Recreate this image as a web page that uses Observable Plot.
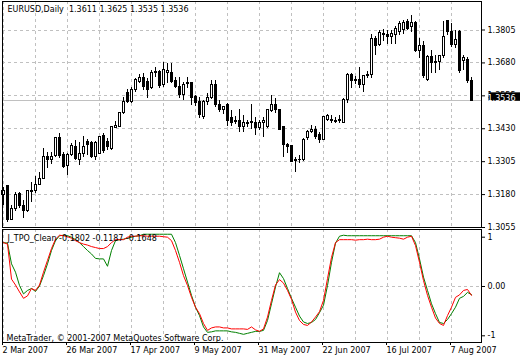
<!DOCTYPE html>
<html><head><meta charset="utf-8">
<script src="https://cdn.jsdelivr.net/npm/d3@7"></script>
<script src="https://cdn.jsdelivr.net/npm/@observablehq/plot@0.6"></script>
<style>
html,body{margin:0;padding:0;background:#fff;}
body{width:520px;height:360px;overflow:hidden;position:relative;font-family:"DejaVu Sans";}
#main,#ind{position:absolute;left:0;}
#main{top:0;}
#ind{top:228px;}
</style></head><body>
<div id="main"></div><div id="ind"></div>
<script>
const symbolTitle = "EURUSD,Daily  1.3611 1.3625 1.3535 1.3536";
const indTitle = "J_TPO_Clean -0.1802 -0.1187 -0.1648";
const copyright = "MetaTrader, © 2001-2007 MetaQuotes Software Corp.";

const opens = [1.3180,1.3211,1.3085,1.3127,1.3184,1.3135,1.3116,1.3192,1.3192,1.3218,
1.3241,1.3321,1.3310,1.3325,1.3393,1.3329,1.3287,1.3332,1.3359,1.3310,
1.3336,1.3378,1.3374,1.3321,1.3336,1.3401,1.3378,1.3355,1.3431,1.3435,
1.3488,1.3564,1.3530,1.3576,1.3606,1.3621,1.3606,1.3583,1.3644,1.3644,
1.3595,1.3640,1.3640,1.3610,1.3587,1.3557,1.3602,1.3602,1.3549,1.3530,
1.3473,1.3530,1.3545,1.3595,1.3522,1.3500,1.3522,1.3469,1.3458,1.3458,
1.3435,1.3450,1.3450,1.3450,1.3431,1.3450,1.3435,1.3496,1.3522,1.3500,
1.3435,1.3367,1.3363,1.3306,1.3313,1.3310,1.3393,1.3416,1.3427,1.3405,
1.3389,1.3462,1.3462,1.3458,1.3458,1.3450,1.3541,1.3636,1.3617,1.3617,
1.3595,1.3636,1.3633,1.3769,1.3747,1.3788,1.3785,1.3777,1.3785,1.3796,
1.3804,1.3834,1.3815,1.3830,1.3724,1.3743,1.3614,1.3701,1.3682,1.3682,
1.3705,1.3838,1.3796,1.3747,1.3796,1.3686,1.3690,1.3611];
const highs = [1.3207,1.3215,1.3139,1.3188,1.3188,1.3158,1.3196,1.3226,1.3249,1.3264,
1.3355,1.3340,1.3340,1.3397,1.3412,1.3340,1.3336,1.3374,1.3386,1.3378,
1.3401,1.3389,1.3382,1.3382,1.3401,1.3412,1.3393,1.3435,1.3458,1.3492,
1.3549,1.3579,1.3587,1.3621,1.3636,1.3640,1.3621,1.3652,1.3663,1.3652,
1.3682,1.3678,1.3678,1.3625,1.3625,1.3606,1.3625,1.3606,1.3557,1.3549,
1.3538,1.3564,1.3614,1.3614,1.3538,1.3515,1.3526,1.3500,1.3477,1.3503,
1.3481,1.3462,1.3522,1.3473,1.3462,1.3473,1.3503,1.3557,1.3545,1.3503,
1.3435,1.3374,1.3367,1.3321,1.3329,1.3393,1.3424,1.3443,1.3439,1.3416,
1.3477,1.3484,1.3481,1.3473,1.3481,1.3545,1.3640,1.3640,1.3629,1.3663,
1.3629,1.3648,1.3788,1.3781,1.3804,1.3807,1.3804,1.3804,1.3819,1.3838,
1.3842,1.3846,1.3861,1.3838,1.3773,1.3762,1.3709,1.3728,1.3709,1.3709,
1.3838,1.3842,1.3830,1.3804,1.3804,1.3709,1.3701,1.3625];
const lows = [1.3139,1.3074,1.3082,1.3116,1.3127,1.3089,1.3112,1.3150,1.3184,1.3215,
1.3237,1.3279,1.3294,1.3321,1.3317,1.3279,1.3253,1.3325,1.3310,1.3291,
1.3321,1.3329,1.3317,1.3310,1.3332,1.3336,1.3348,1.3348,1.3431,1.3435,
1.3484,1.3526,1.3526,1.3568,1.3602,1.3576,1.3545,1.3579,1.3625,1.3583,
1.3587,1.3602,1.3602,1.3583,1.3545,1.3538,1.3583,1.3519,1.3515,1.3469,
1.3465,1.3519,1.3541,1.3511,1.3492,1.3484,1.3439,1.3439,1.3446,1.3416,
1.3416,1.3435,1.3427,1.3405,1.3424,1.3397,1.3431,1.3492,1.3488,1.3424,
1.3321,1.3336,1.3302,1.3264,1.3298,1.3306,1.3386,1.3412,1.3389,1.3374,
1.3386,1.3458,1.3450,1.3450,1.3450,1.3450,1.3526,1.3583,1.3598,1.3583,
1.3568,1.3621,1.3621,1.3709,1.3743,1.3762,1.3750,1.3750,1.3750,1.3785,
1.3788,1.3804,1.3796,1.3720,1.3697,1.3621,1.3610,1.3640,1.3640,1.3652,
1.3697,1.3785,1.3739,1.3735,1.3640,1.3652,1.3602,1.3535];
const closes = [1.3192,1.3082,1.3127,1.3180,1.3135,1.3116,1.3192,1.3188,1.3218,1.3241,
1.3321,1.3310,1.3321,1.3393,1.3325,1.3283,1.3332,1.3363,1.3317,1.3336,
1.3359,1.3367,1.3321,1.3374,1.3397,1.3344,1.3359,1.3435,1.3439,1.3488,
1.3530,1.3530,1.3576,1.3614,1.3621,1.3587,1.3579,1.3640,1.3640,1.3591,
1.3655,1.3648,1.3606,1.3587,1.3557,1.3595,1.3600,1.3545,1.3526,1.3481,
1.3530,1.3545,1.3598,1.3519,1.3503,1.3511,1.3458,1.3450,1.3456,1.3435,
1.3450,1.3448,1.3454,1.3431,1.3450,1.3458,1.3500,1.3522,1.3500,1.3427,
1.3370,1.3359,1.3302,1.3313,1.3311,1.3389,1.3416,1.3427,1.3397,1.3389,
1.3473,1.3477,1.3458,1.3456,1.3462,1.3541,1.3636,1.3610,1.3610,1.3595,
1.3629,1.3629,1.3769,1.3743,1.3792,1.3786,1.3777,1.3788,1.3807,1.3827,
1.3830,1.3807,1.3830,1.3724,1.3743,1.3629,1.3701,1.3678,1.3680,1.3705,
1.3777,1.3796,1.3747,1.3766,1.3648,1.3697,1.3610,1.3536];

const tpoRed = [0.89,0.86,0.15,0.03,-0.11,-0.24,-0.19,-0.04,-0.08,0.03,
0.29,0.53,0.77,0.96,1.04,1.03,1.01,0.98,0.93,0.89,
0.86,0.84,0.81,0.79,0.77,0.77,0.81,0.89,0.95,0.95,
0.95,1.00,1.02,1.02,1.03,1.03,1.02,1.02,1.02,1.02,
1.01,1.00,0.93,0.73,0.49,0.22,0.02,-0.22,-0.42,-0.55,
-0.75,-0.89,-0.84,-0.82,-0.82,-0.84,-0.84,-0.86,-0.86,-0.86,
-0.86,-0.87,-0.82,-0.88,-0.91,-0.86,-0.62,-0.28,0.03,0.14,
0.07,-0.08,-0.26,-0.52,-0.69,-0.77,-0.79,-0.72,-0.62,-0.51,
-0.28,0.16,0.59,0.89,0.95,0.95,0.95,0.95,0.94,0.95,
0.95,0.96,0.95,0.95,0.96,1.00,1.02,1.00,0.99,0.98,
0.96,1.00,1.02,0.83,0.49,0.12,-0.18,-0.42,-0.64,-0.75,
-0.79,-0.59,-0.42,-0.22,-0.17,-0.08,-0.06,-0.1802];
const tpoGreen = [0.89,0.88,0.46,0.29,0.02,-0.15,-0.08,-0.04,-0.10,0.01,
0.22,0.46,0.73,0.93,1.03,1.04,1.03,1.00,0.95,0.89,
0.81,0.73,0.66,0.57,0.56,0.56,0.41,0.73,0.93,0.95,
0.96,0.98,1.00,1.02,1.03,1.06,1.06,1.06,1.06,1.06,
1.06,1.06,1.06,0.89,0.63,0.36,0.09,-0.18,-0.42,-0.59,
-0.82,-0.93,-0.92,-0.90,-0.90,-0.90,-0.90,-0.92,-0.93,-0.95,
-0.97,-0.95,-0.93,-0.91,-0.91,-0.89,-0.69,-0.35,-0.01,0.28,
0.16,-0.04,-0.24,-0.42,-0.60,-0.72,-0.75,-0.73,-0.67,-0.53,
-0.38,0.02,0.49,0.88,1.02,1.04,1.03,1.03,1.03,1.03,
1.03,1.03,1.03,1.03,1.03,1.03,1.03,1.03,1.03,1.03,
1.03,1.03,1.03,0.89,0.56,0.19,-0.08,-0.35,-0.55,-0.73,
-0.75,-0.67,-0.55,-0.42,-0.24,-0.20,-0.12,-0.1648];

const dateTicks = [0,16,32,48,64,80,96,112];
const dateLabels = ["2 Mar 2007","26 Mar 2007","17 Apr 2007","9 May 2007","31 May 2007","22 Jun 2007","16 Jul 2007","7 Aug 2007"];
const gridIdx = [0,8,16,24,32,40,48,56,64,72,80,88,96,104,112];
const priceTicks = [1.3055,1.3180,1.3305,1.3430,1.3555,1.3680,1.3805];
const indTicks = [-1,0,1];
const lastPrice = 1.3536;

const bars = opens.map((o,i)=>({i, o, h: highs[i], l: lows[i], c: closes[i]}));
const GRID = "#c0c0c0";
const xScale = {type:"linear", domain:[0,117], range:[3, 3+4*117]};
const style = {fontFamily:"DejaVu Sans", fontSize:"8px", background:"transparent", overflow:"visible", color:"black"};
const crisp = {shapeRendering: "crispEdges"};

const main = Plot.plot({
  width: 520, height: 228,
  marginTop: 1, marginLeft: 2, marginRight: 39, marginBottom: 1,
  style,
  x: {...xScale, axis: null},
  y: {domain:[1.3055,1.3805], range:[227, 29.5], axis: null},
  marks: [
    Plot.gridX(gridIdx, {stroke: GRID, strokeOpacity: 1, strokeDasharray: "3,3", ...crisp}),
    Plot.gridY(priceTicks, {stroke: GRID, strokeOpacity: 1, strokeDasharray: "3,3", ...crisp}),
    Plot.ruleY([lastPrice], {stroke: GRID, strokeOpacity: 1, ...crisp}),
    Plot.ruleX(bars, {x: "i", y1: "l", y2: "h", stroke: "black", ...crisp}),
    Plot.rect(bars, {x1: d=>d.i-0.25, x2: d=>d.i+0.25, y1: "o", y2: "c",
      fill: d=> d.c >= d.o ? "white" : "black", stroke: "black", ...crisp}),
    Plot.axisY(priceTicks, {anchor: "right", tickSize: 3, tickPadding: 3, tickFormat: d=>d.toFixed(4), fontSize: 8}),
    Plot.text([lastPrice], {y: d=>d, text: d=>d.toFixed(4), frameAnchor: "right", textAnchor: "start", dx: 6, dy: -2, fill: "white", fontSize: 8,
      render(index, scales, values, dims, context, next) {
        const g = next(index, scales, values, dims, context);
        const y = scales.y(lastPrice);
        const x0 = dims.width - dims.marginRight;
        const r = document.createElementNS("http://www.w3.org/2000/svg","rect");
        r.setAttribute("x", x0 + 1); r.setAttribute("y", y - 6.5);
        r.setAttribute("width", 32); r.setAttribute("height", 8.5);
        r.setAttribute("fill", "black");
        g.insertBefore(r, g.firstChild);
        return g;
      }}),
    Plot.frame({stroke: "black", ...crisp}),
    Plot.text([symbolTitle], {frameAnchor: "top-left", textAnchor: "start", lineAnchor: "top", dx: 5, dy: 5, fontSize: 8, fill: "black"})
  ]
});
document.getElementById("main").appendChild(main);

const ind = Plot.plot({
  width: 520, height: 132,
  marginTop: 1, marginLeft: 2, marginRight: 39, marginBottom: 18,
  style,
  x: {...xScale, axis: null},
  y: {domain:[-1,1], range:[107.3, 8.7], axis: null},
  marks: [
    Plot.gridX(gridIdx, {stroke: GRID, strokeOpacity: 1, strokeDasharray: "3,3", ...crisp}),
    Plot.gridY([0], {stroke: GRID, strokeOpacity: 1, strokeDasharray: "3,3", ...crisp}),
    Plot.lineY(tpoGreen, {x: (d,i)=>i, y: d=>d, stroke: "#008000", strokeWidth: 1}),
    Plot.lineY(tpoRed, {x: (d,i)=>i, y: d=>d, stroke: "#ff0000", strokeWidth: 1}),
    Plot.axisY(indTicks, {anchor: "right", tickSize: 3, tickPadding: 3, tickFormat: d => d === 0 ? "0.00" : String(d), fontSize: 8}),
    Plot.axisX(dateTicks, {anchor: "bottom", tickSize: 3, tickPadding: 2, tickFormat: d => dateLabels[dateTicks.indexOf(d)], textAnchor: "start", dx: -1, fontSize: 8}),
    Plot.frame({stroke: "black", ...crisp}),
    Plot.text([indTitle], {frameAnchor: "top-left", textAnchor: "start", lineAnchor: "top", dx: 5, dy: 6, fontSize: 8, fill: "black"}),
    Plot.text([copyright], {frameAnchor: "bottom-left", textAnchor: "start", lineAnchor: "bottom", dx: 4, dy: -2, fontSize: 8, fill: "black"})
  ]
});
document.getElementById("ind").appendChild(ind);
</script>
</body></html>
